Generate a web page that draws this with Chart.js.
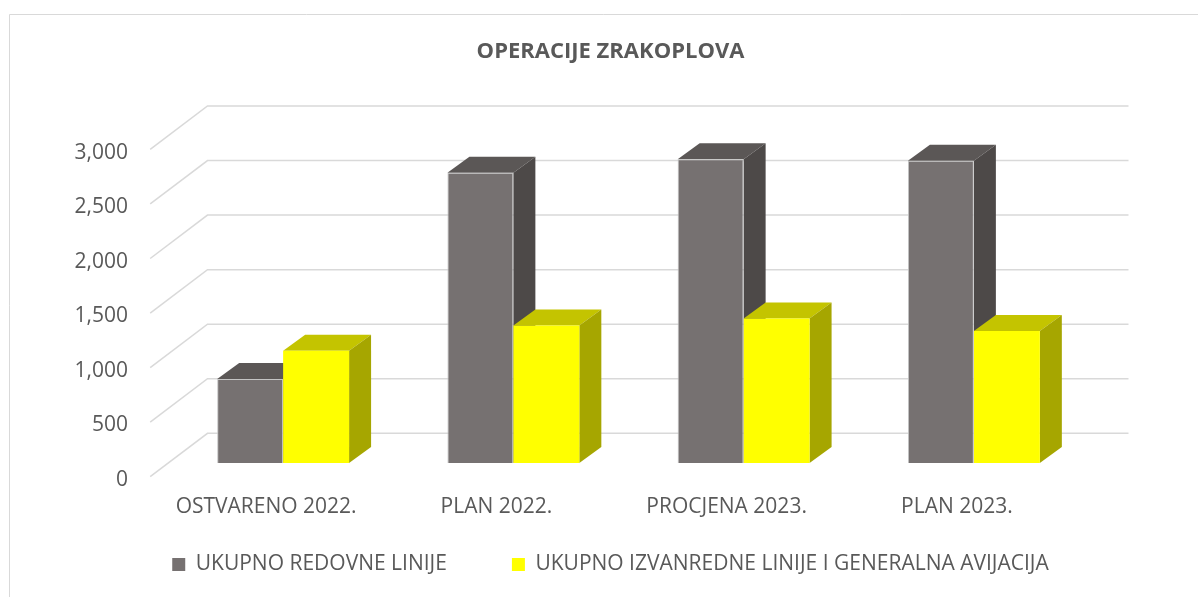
<!DOCTYPE html>
<html><head><meta charset="utf-8">
<script src="https://cdn.jsdelivr.net/npm/chart.js@4/dist/chart.umd.min.js"></script>
<style>html,body{margin:0;padding:0;background:#fff}#wrap{width:1198px;height:597px;position:relative}</style>
</head><body><div id="wrap"><canvas id="c" width="1198" height="597"></canvas></div>
<script>
const categories = ['OSTVARENO 2022.', 'PLAN 2022.', 'PROCJENA 2023.', 'PLAN 2023.'];
const seriesNames = ['UKUPNO REDOVNE LINIJE', 'UKUPNO IZVANREDNE LINIJE I GENERALNA AVIJACIJA'];
const redovne = [770, 2660, 2785, 2770];
const izvanredne = [1030, 1260, 1325, 1210];
const yMin = 0, yMax = 3000, yStep = 500;
const chartTitle = 'OPERACIJE ZRAKOPLOVA';

const FONT = "'Open Sans', 'DejaVu Sans', sans-serif";
const TEXT = '#595959';
const FRONT = {dx: -17.8, dy: 13.7};
const BACK = {dx: 39.5, dy: -29.7};
const DEPTH = {dx: 22, dy: -16};
const faceColors = [{top: '#5b5756', side: '#4d4948'}, {top: '#c4c400', side: '#a6a600'}];

const threeD = {
  id: 'threeD',
  beforeDraw(chart) {
    const ctx = chart.ctx;
    ctx.save();
    ctx.fillStyle = '#fff';
    ctx.fillRect(0, 0, chart.width, chart.height);
    ctx.strokeStyle = '#d9d9d9';
    ctx.lineWidth = 1;
    ctx.beginPath();
    ctx.moveTo(9.5, chart.height);
    ctx.lineTo(9.5, 14.5);
    ctx.lineTo(chart.width, 14.5);
    ctx.stroke();
    ctx.restore();
  },
  beforeDatasetsDraw(chart) {
    const {ctx, chartArea: a, scales: {y}} = chart;
    ctx.save();
    ctx.strokeStyle = '#d9d9d9';
    ctx.lineWidth = 1.5;
    y.ticks.forEach(t => {
      const py = y.getPixelForValue(t.value);
      ctx.beginPath();
      ctx.moveTo(a.left + FRONT.dx, py + FRONT.dy);
      ctx.lineTo(a.left + BACK.dx, py + BACK.dy);
      ctx.lineTo(a.right + BACK.dx, py + BACK.dy);
      ctx.stroke();
    });
    const n = chart.data.labels.length;
    for (let i = 0; i < n; i++) {
      chart.data.datasets.forEach((ds, d) => {
        const el = chart.getDatasetMeta(d).data[i];
        const p = el.getProps(['x', 'y', 'base', 'width'], true);
        const l = p.x - p.width / 2, r = p.x + p.width / 2, top = p.y, base = p.base;
        ctx.fillStyle = faceColors[d].top;
        ctx.beginPath();
        ctx.moveTo(l, top);
        ctx.lineTo(l + DEPTH.dx, top + DEPTH.dy);
        ctx.lineTo(r + DEPTH.dx, top + DEPTH.dy);
        ctx.lineTo(r, top);
        ctx.closePath();
        ctx.fill();
        ctx.fillStyle = faceColors[d].side;
        ctx.beginPath();
        ctx.moveTo(r, top);
        ctx.lineTo(r + DEPTH.dx, top + DEPTH.dy);
        ctx.lineTo(r + DEPTH.dx, base + DEPTH.dy);
        ctx.lineTo(r, base);
        ctx.closePath();
        ctx.fill();
      });
    }
    ctx.restore();
  }
};

Chart.defaults.font.family = FONT;
Chart.defaults.color = TEXT;

new Chart(document.getElementById('c'), {
  type: 'bar',
  data: {
    labels: categories,
    datasets: [
      {label: seriesNames[0], data: redovne, backgroundColor: '#767171', borderColor: '#c4c4c4', borderWidth: 1, yAxisID: 'y'},
      {label: seriesNames[1], data: izvanredne, backgroundColor: '#ffff00', borderWidth: 0, yAxisID: 'y'}
    ]
  },
  options: {
    responsive: false,
    devicePixelRatio: 1,
    animation: false,
    categoryPercentage: 0.573,
    barPercentage: 1.0,
    layout: {padding: {left: 60, right: 37, top: 15, bottom: 12}},
    plugins: {
      title: {
        display: true, text: chartTitle, color: TEXT,
        font: {size: 22, weight: 'bold', family: FONT},
        padding: {top: 23.8, bottom: 70.5}
      },
      legend: {
        position: 'bottom',
        labels: {
          boxWidth: 13, boxHeight: 13, padding: 65, color: TEXT, font: {size: 21, family: FONT},
          generateLabels(chart) {
            return Chart.defaults.plugins.legend.labels.generateLabels(chart).map(it => Object.assign(it, {lineWidth: 0, strokeStyle: 'rgba(0,0,0,0)'}));
          }
        }
      },
      tooltip: {enabled: false}
    },
    scales: {
      x: {
        grid: {display: false, drawTicks: false},
        border: {display: false},
        ticks: {mirror: true, padding: -57, labelOffset: -17, color: TEXT, font: {size: 21, family: FONT}},
        afterFit(s) { s.height = 26; }
      },
      y: {
        position: 'left',
        min: yMin, max: yMax,
        grid: {display: false, drawTicks: false},
        border: {display: false},
        ticks: {stepSize: yStep, padding: 40, labelOffset: 17, color: TEXT, font: {size: 21, family: FONT}},
        afterFit(s) { s.width = 108; }
      },
      y2: {
        position: 'right',
        min: yMin, max: yMax,
        grid: {display: false, drawTicks: false},
        border: {display: false},
        ticks: {display: false},
        afterFit(s) { s.width = 72; }
      }
    }
  },
  plugins: [threeD]
});
</script>
</body></html>
